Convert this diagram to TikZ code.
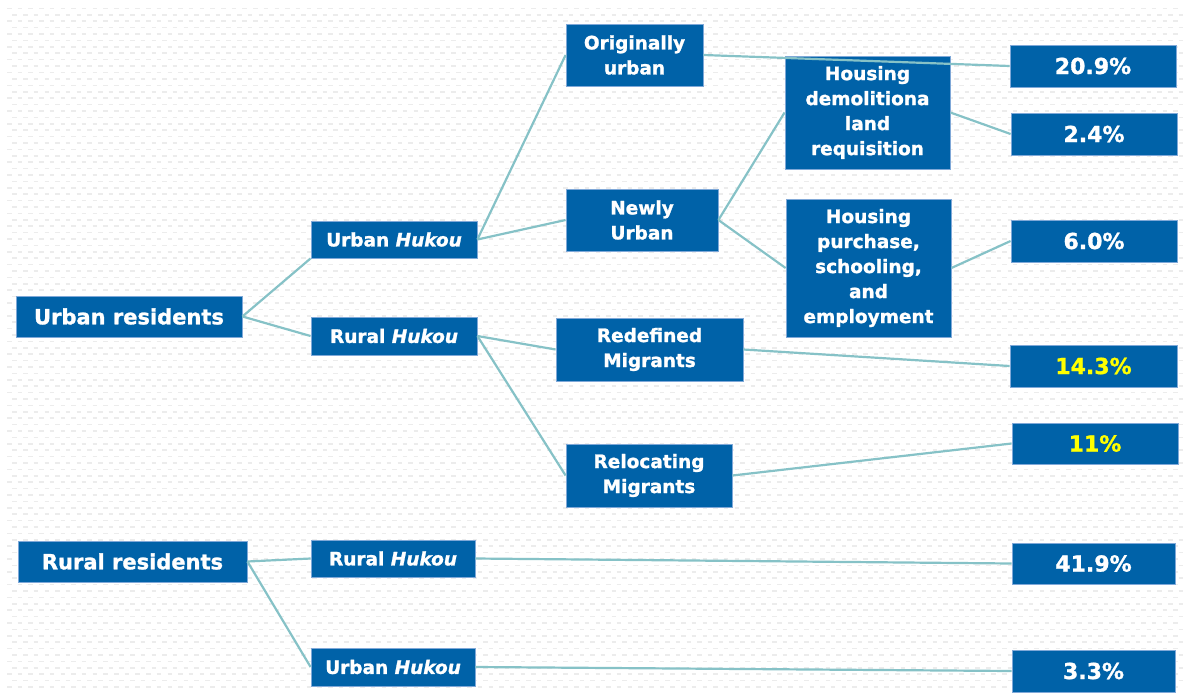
\documentclass[tikz,border=0pt]{standalone}
\usepackage{fontspec}
\setmainfont{DejaVu Sans}[BoldFeatures={FakeBold=1.3},BoldItalicFeatures={FakeBold=1.3}]
\begin{document}
\pgfdeclarelayer{bg}
\pgfsetlayers{bg,main}
\definecolor{boxblue}{HTML}{0062A8}
\definecolor{boxedge}{HTML}{7FA8D8}
\definecolor{linkc}{HTML}{86C2C7}
\definecolor{dotc}{HTML}{ECECEC}
\definecolor{hl}{HTML}{FFFF00}
\tikzset{
  box/.style={draw=boxedge, fill=boxblue, line width=0.8pt, text=white,
    font=\bfseries\fontsize{18.5}{25}\selectfont, align=center, inner sep=0pt},
  pct/.style={box, font=\bfseries\fontsize{22}{26}\selectfont},
  big/.style={box, font=\bfseries\fontsize{21}{26}\selectfont},
  link/.style={draw=linkc, line width=2.2pt},
  dots/.style={draw=dotc, line width=1.6pt, dash pattern=on 4.5pt off 6.2pt}
}
\begin{tikzpicture}[x=1pt,y=-1pt]
\useasboundingbox (0,0) rectangle (1183,693);
\begin{pgfonlayer}{bg}
  \fill[white] (0,0) rectangle (1183,693);
  \foreach \i in {0,...,106}{
    \pgfmathsetmacro{\yy}{8.5+6.4*\i}
    \pgfmathsetmacro{\ph}{mod(\i,2)*5.3}
    \draw[dots, dash phase=\ph pt] (7,\yy) -- (1183,\yy);
  }
\end{pgfonlayer}

% level 0
\node[big, minimum width=226pt, minimum height=41pt] (ur) at (129,316.5) {Urban residents};
\node[big, minimum width=229pt, minimum height=41pt] (rr) at (132.5,561.5) {Rural residents};
% level 1
\node[box, minimum width=166pt, minimum height=37pt] (uhA) at (394,239.5) {Urban \textit{Hukou}};
\node[box, minimum width=166pt, minimum height=38pt] (rhA) at (394,336) {Rural \textit{Hukou}};
\node[box, minimum width=164pt, minimum height=37pt] (rhB) at (393,558.5) {Rural \textit{Hukou}};
\node[box, minimum width=164pt, minimum height=38pt] (uhB) at (393,667) {Urban \textit{Hukou}};
% level 2
\node[box, minimum width=137pt, minimum height=62pt] (orig) at (634.5,55) {Originally\\urban};
\node[box, minimum width=152pt, minimum height=62pt] (newly) at (642,220) {Newly\\Urban};
\node[box, minimum width=187pt, minimum height=63pt] (redef) at (649.5,349.5) {Redefined\\Migrants};
\node[box, minimum width=166pt, minimum height=63pt] (reloc) at (649,475.5) {Relocating\\Migrants};
% level 3
\node[box, minimum width=165pt, minimum height=113pt] (hd) at (867.5,112.5) {Housing\\demolitiona\\land\\requisition};
\node[box, minimum width=165pt, minimum height=138pt] (hp) at (868.5,268) {Housing\\purchase,\\schooling,\\and\\employment};
% percentages
\node[pct, minimum width=166pt, minimum height=42pt] (p209) at (1093,66) {20.9\%};
\node[pct, minimum width=166pt, minimum height=42pt] (p24) at (1094,134) {2.4\%};
\node[pct, minimum width=166pt, minimum height=42pt] (p60) at (1094,241) {6.0\%};
\node[pct, minimum width=167pt, minimum height=42pt, text=hl] (p143) at (1093.5,366) {14.3\%};
\node[pct, minimum width=166pt, minimum height=41pt, text=hl] (p11) at (1095,443.5) {11\%};
\node[pct, minimum width=163pt, minimum height=41pt] (p419) at (1093.5,563.5) {41.9\%};
\node[pct, minimum width=163pt, minimum height=42pt] (p33) at (1093.5,671) {3.3\%};

\draw[link] (ur.east) -- (uhA.south west);
\draw[link] (ur.east) -- (rhA.west);
\draw[link] (uhA.east) -- (orig.west);
\draw[link] (uhA.east) -- (newly.west);
\draw[link] (newly.east) -- (hd.west);
\draw[link] (newly.east) -- (hp.west);
\draw[link] (orig.east) -- (p209.west);
\draw[link] (hd.east) -- (p24.west);
\draw[link] (hp.east) -- (p60.west);
\draw[link] (rhA.east) -- (redef.west);
\draw[link] (rhA.east) -- (reloc.west);
\draw[link] (redef.east) -- (p143.west);
\draw[link] (reloc.east) -- (p11.west);
\draw[link] (rr.east) -- (rhB.west);
\draw[link] (rr.east) -- (uhB.west);
\draw[link] (rhB.east) -- (p419.west);
\draw[link] (uhB.east) -- (p33.west);
\end{tikzpicture}
\end{document}
